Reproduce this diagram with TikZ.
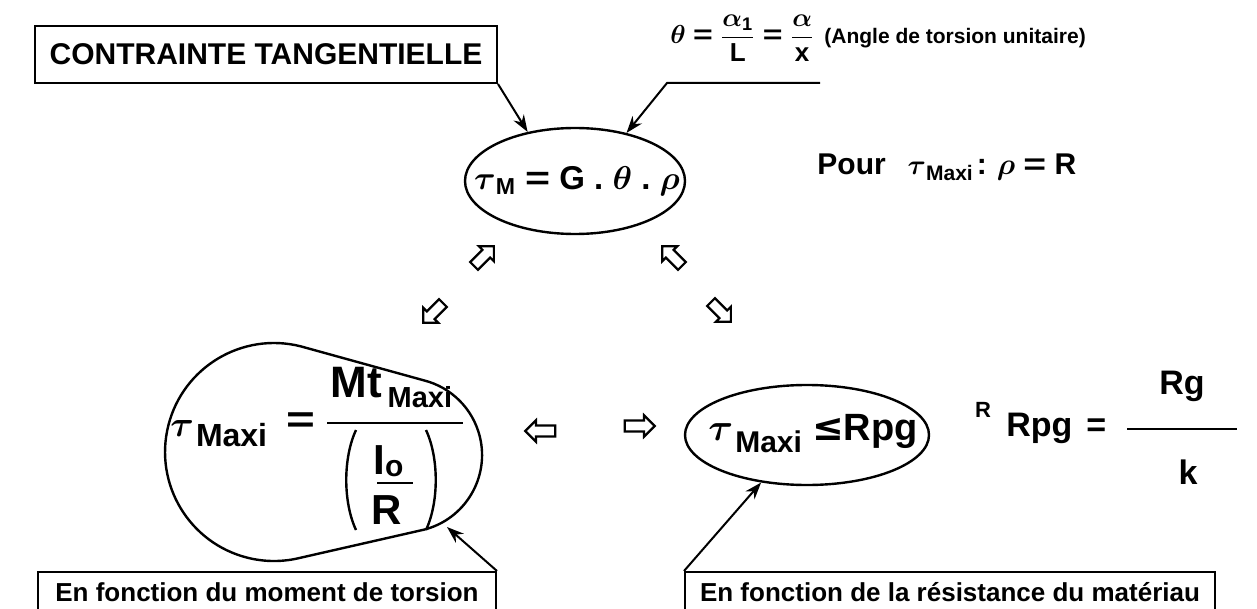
\documentclass[tikz,border=0pt]{standalone}
\usepackage{fix-cm}
\usepackage{amsmath}
\usepackage{graphicx}
\usepackage{fontspec}
\setmainfont{Liberation Sans}
\newfontfamily\djv{DejaVu Sans}
\usetikzlibrary{shapes.geometric,shapes.arrows,arrows.meta}
\newcommand{\fsz}[1]{\fontsize{#1}{#1}\selectfont}
\newcommand{\beq}{\mathrel{\text{\bfseries\scalebox{1.3}[1]{=}}}}
\begin{document}
\begin{tikzpicture}[x=0.5pt,y=-0.5pt,
  lblbox/.style={draw, line width=1pt, inner sep=0pt, font=\bfseries},
  conn/.style={line width=1pt, -{Stealth[length=8.5pt,width=6pt]}},
  harrow/.style={draw, line width=1.1pt, single arrow, minimum height=14pt,
     single arrow head extend=2.6pt, inner sep=2.2pt},
  oval/.style={draw, ellipse, line width=1.2pt, inner sep=0pt},
  txt/.style={inner sep=0pt, font=\bfseries}]
\fill[white] (0,0) rectangle (1257,609);
\useasboundingbox (0,0) rectangle (1257,609);

% top label box
\node[lblbox, minimum width=231pt, minimum height=28.5pt] (b1) at (266,54.5)
  {\fsz{15}CONTRAINTE TANGENTIELLE};

% top formula
\node[txt, anchor=base west] (thf) at (670,44)
  {\fsz{13}$\boldsymbol\theta\beq\dfrac{\boldsymbol\alpha_{\text{\bfseries 1}}}{\text{\bfseries L}}
   \beq\dfrac{\boldsymbol\alpha}{\text{\bfseries x}}$};
\node[txt, anchor=base west] (ang) at (824,44) {\fsz{10.5}(Angle de torsion unitaire)};
\coordinate (lr) at (820,83);
\coordinate (ll) at (667,83);

% main ellipse
\node[oval, minimum width=110pt, minimum height=53pt] (e1) at (575,181) {};
\node[txt] (e1t) at (577,181)
  {\fsz{16.5}$\boldsymbol\tau_{\text{\bfseries M}} \beq \text{\bfseries G}\;\text{\bfseries .}\;\boldsymbol\theta\;\text{\bfseries .}\;\boldsymbol\rho$};

\draw[conn] (b1.south east) -- (e1.134);
\draw[conn] (lr) -- (ll) -- (e1.43);

% Pour ...
\node[txt, anchor=base west] (pour) at (817,175)
  {{\fsz{15}Pour}\hspace{11pt}{\fsz{14}$\boldsymbol\tau$}\raisebox{-3pt}{\fsz{10.5}Maxi}\hspace{2pt}{\fsz{15}:}\hspace{5pt}{\fsz{15}$\boldsymbol\rho \beq \text{\bfseries R}$}};

% hollow arrows
\node[harrow, rotate=45] (h1) at (482,258) {};
\node[harrow, rotate=135] (h2) at (674,258) {};
\node[harrow, rotate=225] (h3) at (435,311) {};
\node[harrow, rotate=-45] (h4) at (719,310) {};
\node[harrow, rotate=180, minimum height=15pt] (h5) at (543,431) {};
\node[harrow, rotate=0, minimum height=15pt] (h6) at (637,426) {};

% left blob
\draw[line width=1.2pt] (300.6,346.3) arc[start angle=284.1, end angle=75.9, radius=109]
  -- (423.8,529.7) arc[start angle=75.9, end angle=-75.9, radius=77] -- cycle;
\node[txt, anchor=base west] (tmax) at (170,436)
  {{\fsz{18}$\boldsymbol\tau$}\hspace{1pt}\raisebox{-5pt}{\fsz{16}Maxi}};
\node[txt] (eq1) at (301,423) {\fsz{19}$\beq$};
\draw[line width=0.8pt] (327,423) -- (463,423);
\node[txt, anchor=base west] (mt) at (330,397)
  {{\fsz{22}Mt}\hspace{3pt}\raisebox{-5pt}{\fsz{14.5}Maxi}};
\draw[line width=1.2pt] (356,430) .. controls (343,458) and (343,502) .. (356,530);
\draw[line width=1.2pt] (426,430) .. controls (439,458) and (439,502) .. (426,530);
\node[txt, anchor=base west] (io) at (373,474) {{\fsz{21}I}\raisebox{-1pt}{\fsz{15}o}};
\draw[line width=0.8pt] (377,483) -- (413,483);
\node[txt, anchor=base west] (rr) at (371,524) {\fsz{21}R};

% second ellipse
\node[oval, minimum width=122pt, minimum height=50pt] (e2) at (807,435) {};
\node[txt, anchor=base west] (e2t) at (708,440)
  {{\fsz{19}$\boldsymbol\tau$}\hspace{1pt}\raisebox{-6pt}{\fsz{15}Maxi}\hspace{5pt}{\fsz{19}{\djv\bfseries ≤}Rpg}};

% right formula
\node[txt] (rs) at (983,410) {\fsz{11}R};
\node[txt, anchor=west] (rpg) at (1006,428) {\fsz{17}Rpg\hspace{7pt}=};
\node[txt] (rg) at (1182,386) {\fsz{17}Rg};
\node[txt] (kk) at (1188,472) {\fsz{17}k};
\draw[line width=1pt] (1127,429) -- (1237,429);

% bottom boxes
\node[lblbox, minimum width=229pt, minimum height=20pt] (b2) at (267,592)
  {\fsz{13}En fonction du moment de torsion};
\node[lblbox, minimum width=265pt, minimum height=20pt] (b3) at (950,592)
  {\fsz{13}En fonction de la résistance du matériau};
\coordinate (bt) at (447,527);
\draw[conn] (b2.north east) -- (bt);
\draw[conn] (b3.north west) -- (e2.226);
\end{tikzpicture}
\end{document}
